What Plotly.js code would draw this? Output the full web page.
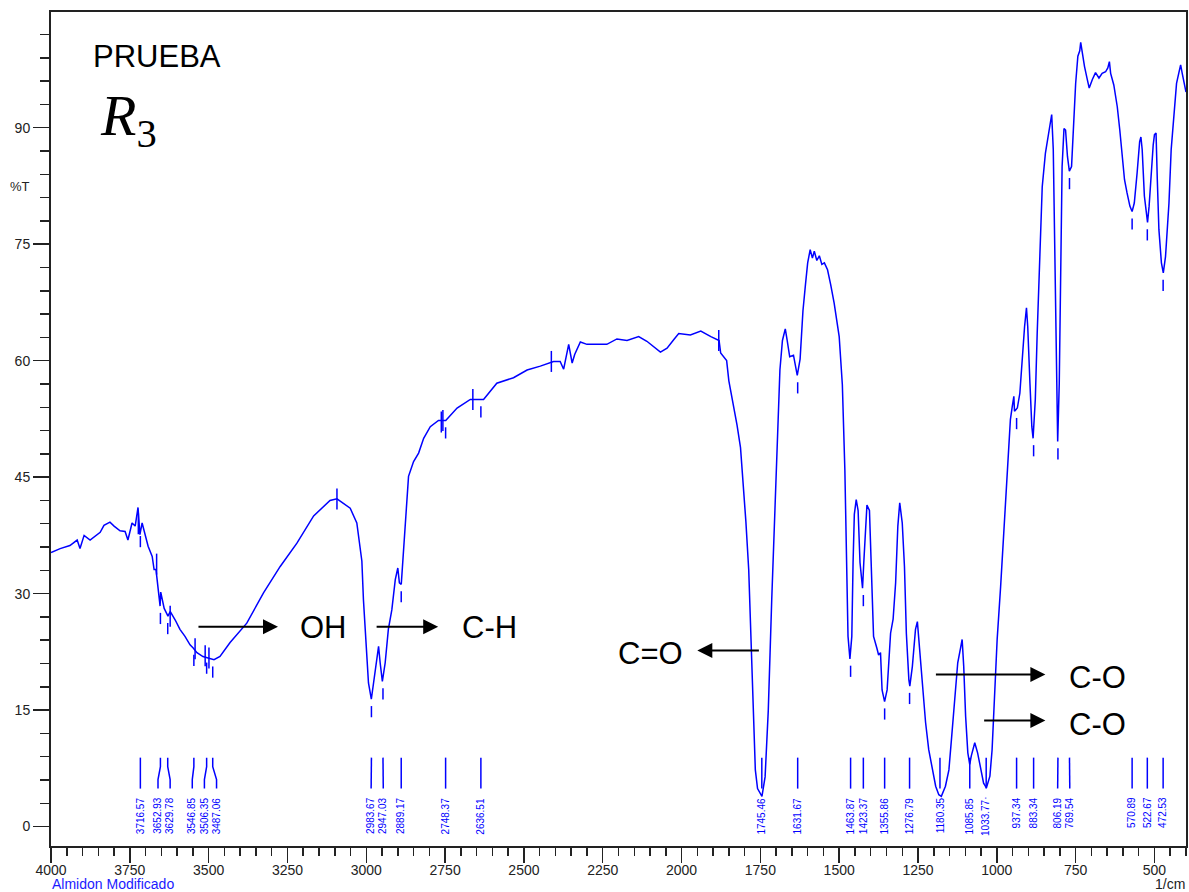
<!DOCTYPE html>
<html>
<head>
<meta charset="utf-8">
<script src="https://cdn.plot.ly/plotly-3.0.1.min.js"></script>
<style>html,body{margin:0;padding:0;background:#fff;}#chart{width:1189px;height:892px;}</style>
</head>
<body>
<div id="chart"></div>
<script>
// ---- Spectrum (wavenumber 1/cm, %T) ----
const wavenumber = [4000,3971,3940,3917,3908,3895,3876,3860,3844,3832,3813,3800,3781,3765,3756,3743,3733,3724,3718,3711,3702,3692,3679,3673,3667,3660,3654,3652,3641,3629,3622,3606,3591,3575,3559,3549,3537,3518,3495,3483,3464,3432,3379,3326,3273,3220,3167,3115,3093,3051,3030,3014,3009,3003,2993,2984,2975,2966,2961,2956,2949,2940,2930,2919,2908,2900,2895,2889,2882,2873,2866,2850,2834,2818,2797,2771,2748,2712,2670,2628,2586,2533,2490,2448,2406,2385,2374,2358,2347,2339,2321,2300,2237,2205,2173,2136,2110,2067,2046,2025,2009,1972,1939,1907,1881,1876,1857,1850,1834,1824,1813,1805,1796,1787,1780,1774,1766,1759,1745,1735,1725,1714,1704,1697,1688,1680,1671,1665,1657,1645,1638,1633,1624,1615,1607,1600,1592,1585,1579,1571,1563,1555,1547,1537,1527,1516,1500,1490,1482,1477,1472,1466,1460,1456,1452,1446,1440,1434,1426,1422,1417,1412,1404,1398,1391,1380,1375,1369,1364,1356,1348,1337,1329,1321,1314,1308,1300,1293,1287,1279,1276,1268,1258,1252,1245,1237,1226,1216,1205,1194,1184,1176,1163,1152,1144,1134,1124,1115,1110,1105,1099,1092,1086,1081,1070,1061,1052,1042,1033,1022,1015,1007,999,988,978,967,957,951,946,944,935,927,919,912,906,902,895,889,885,878,872,864,856,846,835,826,821,816,811,807,802,798,793,787,782,776,770,763,756,750,743,737,734,729,722,713,707,697,687,676,666,655,648,643,639,629,618,610,602,595,587,578,571,564,555,547,543,539,532,526,522,517,510,504,500,495,491,486,478,472,465,454,447,438,430,422,417,412,405,400];
const transmittance = [35.3,35.8,36.2,36.9,35.8,37.5,36.9,37.4,37.9,38.8,39.2,38.7,38.1,38.0,36.9,39.1,38.7,41.1,37.6,39.1,37.8,36.1,34.8,33.1,33.1,30.1,28.4,30.2,28.1,27.1,27.7,26.6,25.4,24.5,23.4,23.0,22.4,21.9,21.7,21.5,21.9,23.7,26.2,30.1,33.5,36.5,40.0,42.0,42.2,41.0,39.1,34.2,29.2,24.5,18.5,16.4,18.9,21.9,23.2,21.1,18.7,21.1,25.4,27.9,31.8,33.3,31.4,31.2,35.7,41.2,45.1,47.0,48.1,50.0,51.5,52.3,52.3,53.9,55.0,55.0,57.1,57.8,58.8,59.3,59.9,59.9,58.9,62.1,59.7,60.8,62.4,62.1,62.1,62.8,62.6,63.1,62.5,61.1,61.6,62.7,63.5,63.3,63.8,63.1,62.6,61.0,60.0,57.4,54.0,51.7,48.8,44.5,39.3,33.1,24.5,14.9,7.3,4.9,3.9,6.4,14.9,29.2,41.2,50.7,58.8,62.6,64.1,62.6,60.5,60.7,58.8,58.1,60.2,66.4,69.8,72.6,74.3,73.2,74.1,72.9,73.5,72.4,72.6,71.7,69.8,67.4,63.1,56.9,45.9,34.0,24.5,21.6,24.5,34.0,40.2,42.1,40.7,34.0,30.7,34.0,38.8,41.4,40.7,34.0,24.5,22.9,22.1,22.4,17.6,16.1,17.6,24.9,26.7,31.4,38.7,41.7,39.1,33.5,24.9,18.9,18.1,20.6,25.4,26.4,22.8,18.1,13.4,9.9,7.3,5.2,4.1,3.9,5.2,7.3,11.2,16.4,21.1,23.0,24.1,20.6,14.2,9.5,8.0,9.1,10.8,9.5,7.8,5.6,5.0,6.5,9.9,16.4,24.1,30.9,37.8,44.0,52.4,54.1,55.4,53.5,53.9,55.8,61.0,64.4,66.8,64.4,57.1,51.5,50.0,55.0,63.5,73.0,82.4,86.7,89.3,91.7,87.2,72.1,59.2,49.6,57.1,72.1,85.0,89.9,89.7,86.3,84.4,85.0,91.0,95.7,99.2,99.9,101.0,99.6,97.9,96.2,95.1,96.2,97.1,96.4,97.0,97.2,97.7,98.5,97.0,95.5,92.7,89.7,86.3,83.3,81.6,79.9,79.2,80.3,84.2,88.2,88.8,87.2,81.2,78.6,77.8,79.9,84.6,87.8,89.1,89.3,83.3,76.9,72.6,71.3,73.4,80.3,87.2,91.9,95.7,97.2,98.1,97.0,95.7,94.6];

// ---- Picked peaks (labelled) ----
const peakWn = [3716.57,3652.93,3629.78,3546.85,3506.35,3487.06,2983.67,2947.03,2889.17,2748.37,2636.51,1745.46,1631.67,1463.87,1423.37,1355.86,1276.79,1180.35,1085.85,1033.77,937.34,883.34,806.19,769.54,570.89,522.67,472.53];
const peakT  = [38.3,28.4,27.1,23.0,22.0,21.5,16.4,18.7,31.2,52.3,55.0,3.9,58.1,21.6,30.7,16.1,18.1,3.9,8.0,5.0,53.5,50.0,49.6,84.4,79.2,77.8,71.3];
const peakText = ["3716.57","3652.93","3629.78","3546.85","3506.35","3487.06","2983.67","2947.03","2889.17","2748.37","2636.51","1745.46","1631.67","1463.87","1423.37","1355.86","1276.79","1180.35","1085.85","1033.77·","937.34","883.34","806.19","769.54","570.89","522.67","472.53"];

// ---- Other pick marks crossing the curve ----
const crossWn = [3723,3665,3622,3543,3511,3499,3093,2762,2757,2662,2413,1882];
const crossT  = [39.0,33.8,27.1,22.9,22.0,21.7,42.2,52.1,52.3,55.0,59.9,62.6];

// ---- Group annotations ----
const groupText = ["OH","C-H","C=O","C-O","C-O"];
const arrowTailWn = [3537,2972,1750,1198,1045];
const arrowTipWn  = [3280,2772,1950,846,846];
const arrowT      = [25.75,25.75,22.66,19.57,13.65];
const textWn      = [3216,2702,1988,779,779];
const textAnchor  = ["left","left","right","left","left"];
const textT       = [25.6,25.6,22.3,19.2,13.1];

const BLUE = "#0000ff";
const AX = "#222222";
const FONT = "Liberation Sans, Arial, sans-serif";

// spread labels so they keep a minimum gap (in wavenumber units)
function spreadLabels(vals, gap){
  const xs = vals.map(v=>-v);
  let groups = xs.map((v,i)=>({idx:[i], sum:v}));
  const pos = g => { const n=g.idx.length, c=g.sum/n; return g.idx.map((_,k)=>c+(k-(n-1)/2)*gap); };
  let changed = true;
  while(changed){
    changed = false;
    for(let i=0;i<groups.length-1;i++){
      const a=pos(groups[i]), b=pos(groups[i+1]);
      if(b[0]-a[a.length-1] < gap-1e-9){
        groups[i] = {idx:groups[i].idx.concat(groups[i+1].idx), sum:groups[i].sum+groups[i+1].sum};
        groups.splice(i+1,1); changed=true; break;
      }
    }
  }
  const out=[];
  groups.forEach(g=>{ const p=pos(g); g.idx.forEach((id,k)=>out[id]=-p[k]); });
  return out;
}
const labelWn = spreadLabels(peakWn, 38.5);

// label leader lines
const LT=[8.88,7.72,6.05,4.89];
const lx=[], ly=[];
peakWn.forEach((w,i)=>{ lx.push(w,w,labelWn[i],labelWn[i],null); ly.push(LT[0],LT[1],LT[2],LT[3],null); });

// dashes under peaks (only those clear of the label area)
const dx=[], dy=[];
peakWn.forEach((w,i)=>{ if(peakT[i]>8.5){ dx.push(w); dy.push(peakT[i]-1.6); } });

const traces = [
  {x:wavenumber, y:transmittance, type:"scatter", mode:"lines", line:{color:BLUE, width:1.5}, hoverinfo:"skip"},
  {x:lx, y:ly, type:"scatter", mode:"lines", line:{color:BLUE, width:1.5}, hoverinfo:"skip"},
  {x:dx, y:dy, type:"scatter", mode:"markers", marker:{symbol:"line-ns", size:8, line:{color:BLUE, width:1.5}}, hoverinfo:"skip"},
  {x:crossWn, y:crossT, type:"scatter", mode:"markers", marker:{symbol:"line-ns", size:15, line:{color:BLUE, width:1.5}}, hoverinfo:"skip"}
];

const annotations = [];
peakWn.forEach((w,i)=>{
  annotations.push({x:labelWn[i], y:3.9, xref:"x", yref:"y", text:peakText[i], showarrow:false, textangle:-90,
    xanchor:"center", yanchor:"top", borderpad:0, font:{family:FONT, size:10, color:BLUE}});
});
groupText.forEach((t,i)=>{
  annotations.push({x:arrowTipWn[i], y:arrowT[i], ax:arrowTailWn[i], ay:arrowT[i], axref:"x", ayref:"y", xref:"x", yref:"y",
    text:"", showarrow:true, arrowhead:2, arrowsize:1.5, arrowwidth:2, arrowcolor:"#000", standoff:0, startstandoff:0});
  annotations.push({x:textWn[i], y:textT[i], xref:"x", yref:"y", text:t, showarrow:false, xanchor:textAnchor[i], yanchor:"middle",
    font:{family:FONT, size:31, color:"#000"}});
});
annotations.push({x:3873, y:99.2, xref:"x", yref:"y", text:"PRUEBA", showarrow:false, xanchor:"left", yanchor:"middle", font:{family:FONT, size:31, color:"#000"}});
annotations.push({x:3850, y:91.0, xref:"x", yref:"y", text:"<i>R</i><sub>3</sub>", showarrow:false, xanchor:"left", yanchor:"middle", font:{family:"Liberation Serif, Times New Roman, serif", size:58, color:"#000"}});
annotations.push({x:-0.0273, y:82.4, xref:"paper", yref:"y", text:"%T", showarrow:false, xanchor:"center", yanchor:"middle", font:{family:FONT, size:13, color:AX}});
annotations.push({x:0, y:-0.0455, xref:"paper", yref:"paper", text:"Almidon Modificado", showarrow:false, xanchor:"left", yanchor:"middle", borderpad:0, font:{family:FONT, size:14, color:"#1a1aff"}});
annotations.push({x:1, y:-0.0455, xref:"paper", yref:"paper", text:"1/cm", showarrow:false, xanchor:"right", yanchor:"middle", borderpad:0, font:{family:FONT, size:14, color:AX}});

const layout = {
  width:1189, height:892,
  margin:{l:51, r:3, t:12, b:46},
  paper_bgcolor:"#fff", plot_bgcolor:"#fff",
  showlegend:false,
  font:{family:FONT, color:AX},
  xaxis:{range:[4000,400], autorange:false, tick0:0, dtick:250, ticks:"outside", ticklen:15, tickwidth:1.5, tickcolor:AX,
    showline:true, linewidth:2, linecolor:AX, mirror:true, showgrid:false, zeroline:false, ticklabelstandoff:-5,
    tickfont:{family:FONT, size:14, color:AX},
    minor:{tick0:0, dtick:50, ticks:"outside", ticklen:8, tickwidth:1.5, tickcolor:AX, showgrid:false}},
  yaxis:{range:[-2.5,104.9], autorange:false, tick0:0, dtick:15, ticks:"outside", ticklen:16, tickwidth:1.5, tickcolor:AX,
    showline:true, linewidth:2, linecolor:AX, mirror:true, showgrid:false, zeroline:false,
    tickfont:{family:FONT, size:14, color:AX},
    minor:{tick0:0, dtick:3, ticks:"outside", ticklen:9, tickwidth:1.5, tickcolor:AX, showgrid:false}},
  annotations:annotations
};

Plotly.newPlot("chart", traces, layout, {displayModeBar:false, staticPlot:true});
</script>
</body>
</html>
